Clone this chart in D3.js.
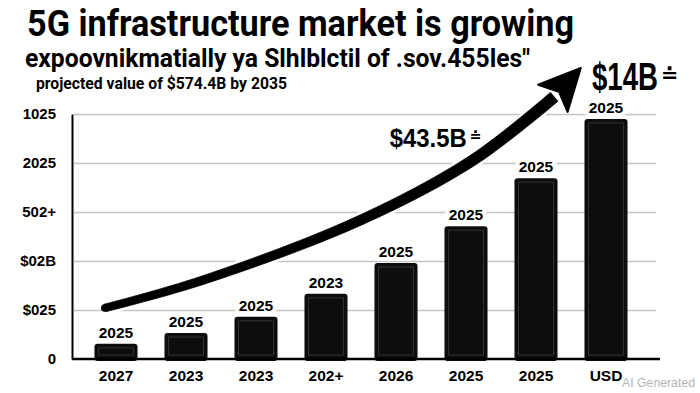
<!DOCTYPE html>
<html><head><meta charset="utf-8">
<script src="https://cdn.jsdelivr.net/npm/d3@7"></script>
<style>body{margin:0;background:#fff}svg{display:block}</style>
</head><body><svg id="c" width="700" height="393"></svg>
<script>
// ---- data ----
const categories = ["2027","2023","2023","202+","2026","2025","2025","USD"];
const values = [0.31, 0.53, 0.86, 1.33, 1.96, 2.71, 3.69, 4.90];
const barLabels = ["2025","2025","2025","2023","2025","2025","2025","2025"];
const yTicks = [0, 1, 2, 3, 4, 5];
const yTickLabels = ["0","$025","$02B","502+","2025","1025"];
// trend arrow, in (category index, value) units
const trendIdx = [-0.16, 1.2, 3.44, 5.1, 6.26];
const trendVal = [1.04, 1.59, 2.80, 4.06, 5.35];
const arrowTip = [6.64, 5.94];
const titleLine1 = "5G infrastructure market is growing";
const titleLine2 = "expoovnikmatially ya Slhlblctil of .sov.455les\"";
const subtitle = "projected value of $574.4B by 2035";
const callouts = [
  {text:"$43.5B", idx:3.91, val:4.33, size:26, len:77, mark:"≐"},
  {text:"$14B", idx:6.8, val:5.49, size:38, len:66, mark:"≐"}
];

// ---- layout ----
const svg = d3.select("#c");
const left = 72, baseY = 359, topY = 114, right = 656;
const x = d3.scaleBand().domain(d3.range(categories.length)).range([81, 641])
  .paddingInner(0.385).paddingOuter(0.1925);
const y = d3.scaleLinear().domain([0, 5]).range([baseY, topY]);
const xi = d3.scaleLinear().domain([0, categories.length - 1])
  .range([x(0) + x.bandwidth()/2, x(categories.length - 1) + x.bandwidth()/2]);
const numFont = "'Liberation Sans', Arial, sans-serif";

// titles
function title(t, xx, yy, size, len) {
  svg.append("text").attr("x", xx).attr("y", yy).text(t)
    .attr("font-family", "Roboto, 'Noto Sans', sans-serif")
    .attr("font-weight", 700).attr("font-size", size).attr("fill", "#000")
    .attr("textLength", len).attr("lengthAdjust", "spacingAndGlyphs");
}
title(titleLine1, 27, 36, 36, 547);
title(titleLine2, 25, 67, 25.5, 505);
title(subtitle, 36, 89, 16.5, 251);

// gridlines
const grid = svg.append("g").attr("transform", `translate(${left + 2},0)`)
  .call(d3.axisLeft(y).tickValues(yTicks.slice(1)).tickSize(-(right - left - 2)).tickFormat(""));
grid.select(".domain").remove();
grid.selectAll("line").attr("stroke", "#c4c4c4").attr("stroke-width", 1.6);

// bars
const bars = svg.append("g");
values.forEach((v, i) => {
  const bx = x(i), bw = x.bandwidth(), by = y(v), bh = baseY - y(v);
  bars.append("rect").attr("x", bx).attr("y", by).attr("width", bw).attr("height", bh + 2)
    .attr("rx", 3).attr("fill", "#0d0d0d");
  if (bh > 10) {
    bars.append("rect").attr("x", bx + 4).attr("y", by + 4).attr("width", bw - 8)
      .attr("height", Math.max(0, bh - 8)).attr("fill", "none")
      .attr("stroke", "#777").attr("stroke-opacity", 0.35).attr("stroke-width", 1);
  }
});

// axes lines
svg.append("line").attr("x1", left).attr("x2", 660).attr("y1", baseY).attr("y2", baseY)
  .attr("stroke", "#000").attr("stroke-width", 2.5);
const ya = svg.append("g").attr("transform", `translate(${left},0)`)
  .call(d3.axisLeft(y).tickValues(yTicks).tickFormat((d, i) => yTickLabels[i]).tickSize(0).tickPadding(16));
ya.select(".domain").attr("stroke", "#000").attr("stroke-width", 2);
ya.selectAll("text").attr("font-family", numFont).attr("font-weight", 700)
  .attr("font-size", 15).attr("fill", "#000");

const xa = svg.append("g").attr("transform", `translate(0,${baseY})`)
  .call(d3.axisBottom(x).tickFormat(i => categories[i]).tickSize(0).tickPadding(11));
xa.select(".domain").remove();
xa.selectAll("text").attr("font-family", numFont).attr("font-weight", 700)
  .attr("font-size", 15.5).attr("fill", "#000");

// trend arrow (tapered shaft)
const pts = trendIdx.map((d, i) => [xi(d), y(trendVal[i])]);
const lineGen = d3.line().curve(d3.curveCatmullRom.alpha(0.5));
const tmp = svg.append("path").attr("d", lineGen(pts)).attr("fill", "none").attr("stroke", "none");
const node = tmp.node(), L = node.getTotalLength(), N = 90;
const samp = d3.range(N + 1).map(k => { const p = node.getPointAtLength(L * k / N); return [p.x, p.y]; });
const leftSide = [], rightSide = [];
samp.forEach((p, k) => {
  const a = samp[Math.max(0, k - 1)], b = samp[Math.min(N, k + 1)];
  let dx = b[0] - a[0], dy = b[1] - a[1]; const m = Math.hypot(dx, dy) || 1; dx /= m; dy /= m;
  const w = 3.8 + 2.0 * (k / N);
  leftSide.push([p[0] - dy * w, p[1] + dx * w]);
  rightSide.push([p[0] + dy * w, p[1] - dx * w]);
});
tmp.remove();
const shaft = leftSide.concat(rightSide.reverse());
const tip = [xi(arrowTip[0]), y(arrowTip[1])];
const B = pts[pts.length - 1];
let ux = tip[0] - B[0], uy = tip[1] - B[1]; const um = Math.hypot(ux, uy); ux /= um; uy /= um;
const hw = 20;
const head = [tip, [B[0] + uy * hw - ux * 2, B[1] - ux * hw - uy * 2],
  [B[0] + ux * 7, B[1] + uy * 7], [B[0] - uy * hw - ux * 2, B[1] + ux * hw - uy * 2]];
const arrowG = svg.append("g");
const closed = d3.line();
arrowG.append("path").attr("d", closed(shaft) + "Z").attr("fill", "#fff").attr("stroke", "#fff").attr("stroke-width", 6);
arrowG.append("path").attr("d", closed(shaft) + "Z").attr("fill", "#000").attr("stroke", "#000").attr("stroke-width", 0.8).attr("stroke-linejoin", "round");
arrowG.append("circle").attr("cx", samp[0][0]).attr("cy", samp[0][1]).attr("r", 3.8).attr("fill", "#000");
arrowG.append("path").attr("d", closed(head) + "Z").attr("fill", "#000").attr("stroke", "#000")
  .attr("stroke-width", 2).attr("stroke-linejoin", "round");

// bar top labels
svg.append("g").selectAll("text").data(values).join("text")
  .attr("x", (d, i) => x(i) + x.bandwidth()/2).attr("y", d => y(d) - 6)
  .attr("text-anchor", "middle").text((d, i) => barLabels[i])
  .attr("font-family", numFont).attr("font-weight", 700).attr("font-size", 15.5)
  .attr("fill", "#000").attr("stroke", "#fff").attr("stroke-width", 8)
  .attr("paint-order", "stroke").attr("stroke-linejoin", "round");

// callouts (condensed by horizontal scaling)
callouts.forEach(c => {
  const cx = xi(c.idx), cy = y(c.val);
  const t = svg.append("text").attr("x", 0).attr("y", 0)
    .attr("font-family", numFont).attr("font-weight", 700).attr("fill", "#000")
    .attr("font-size", c.size).text(c.text);
  const natural = t.node().getComputedTextLength();
  t.attr("transform", `translate(${cx},${cy}) scale(${c.len / natural},1)`);
  svg.append("text").attr("x", cx + c.len + 3).attr("y", cy - c.size * 0.22)
    .attr("font-family", "'DejaVu Sans', sans-serif").attr("font-weight", 700)
    .attr("font-size", c.size * 0.55).attr("fill", "#000").text(c.mark);
});

// watermark
svg.append("text").attr("x", 622).attr("y", 387).text("AI Generated")
  .attr("font-family", numFont).attr("font-size", 13).attr("fill", "#b5b5b5")
  .attr("textLength", 73).attr("lengthAdjust", "spacingAndGlyphs");
</script></body></html>
